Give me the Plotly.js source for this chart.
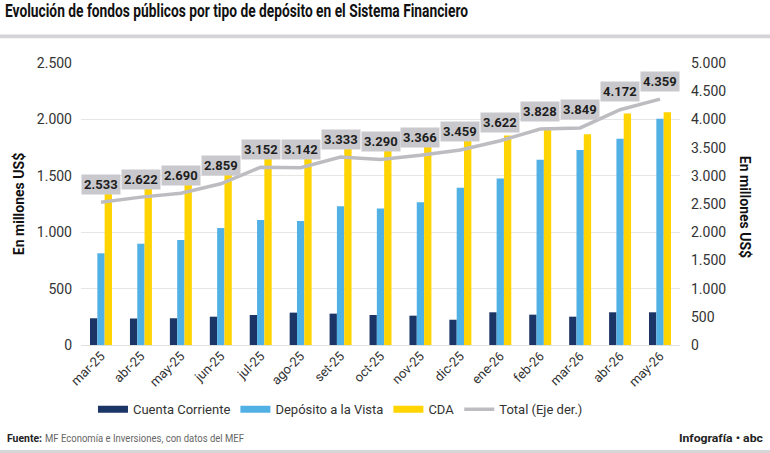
<!DOCTYPE html>
<html>
<head>
<meta charset="utf-8">
<script src="https://cdn.plot.ly/plotly-3.0.1.min.js"></script>
<style>
  html, body { margin: 0; padding: 0; background: #ffffff; }
  #chart { width: 770px; height: 453px; }
</style>
</head>
<body>
<div id="chart"></div>
<script>
// Monthly public deposits by type (millions of US$)
const months = ["mar-25","abr-25","may-25","jun-25","jul-25","ago-25","set-25","oct-25",
                "nov-25","dic-25","ene-26","feb-26","mar-26","abr-26","may-26"];
const cuentaCorriente = [237, 235, 237, 251, 266, 287, 278, 266, 260, 224, 290, 269, 251, 290, 290];
const depositoVista   = [813, 898, 931, 1037, 1108, 1099, 1229, 1209, 1265, 1395, 1475, 1643, 1729, 1829, 2006];
const cda             = [1483, 1489, 1522, 1571, 1778, 1756, 1826, 1815, 1841, 1840, 1857, 1916, 1869, 2053, 2063];
const total           = [2533, 2622, 2690, 2859, 3152, 3142, 3333, 3290, 3366, 3459, 3622, 3828, 3849, 4172, 4359];

const seriesNames  = ["Cuenta Corriente", "Depósito a la Vista", "CDA"];
const seriesValues = [cuentaCorriente, depositoVista, cda];
const seriesColors = ["#1b3566", "#52b1e4", "#ffd400"];
const totalName  = "Total (Eje der.)";
const totalColor = "#bdbdc1";

const titleText  = "Evolución de fondos públicos por tipo de depósito en el Sistema Financiero";
const axisTitle  = "En millones US$";
const sourceHead = "Fuente:";
const sourceBody = "MF Economía e Inversiones, con datos del MEF";
const creditText = "Infografía • abc";

const fmt = v => v.toLocaleString("de-DE");

const traces = [];
seriesNames.forEach((name, i) => {
  traces.push({
    type: "bar", name: name, x: months, y: seriesValues[i],
    marker: { color: seriesColors[i] }, showlegend: false, hoverinfo: "skip"
  });
});
// legend swatches drawn as wide flat strokes
seriesNames.forEach((name, i) => {
  traces.push({
    type: "scatter", mode: "lines", name: name, x: [null], y: [null],
    line: { color: seriesColors[i], width: 7 }, showlegend: true
  });
});
traces.push({
  type: "scatter", mode: "lines", name: totalName, x: months, y: total, yaxis: "y2",
  line: { color: totalColor, width: 3.5 }, showlegend: true
});

const annotations = total.map((v, i) => ({
  x: months[i], y: v, xref: "x", yref: "y2", text: fmt(v), showarrow: false,
  yshift: 18, bgcolor: "#c9c9cd", borderpad: 2,
  font: { family: "Roboto", size: 13, color: "#1e1e1e", weight: 700 }
}));

// right-hand axis title, read top to bottom
annotations.push({
  xref: "paper", yref: "paper", x: 1.1085, y: 0.49, xanchor: "center", yanchor: "middle",
  showarrow: false, textangle: 90, text: axisTitle,
  font: { family: "Roboto", size: 14, color: "#111", weight: 700 }
});

// footer: source and credit
annotations.push({
  xref: "paper", yref: "paper", x: -0.1269, y: -0.333, xanchor: "left", yanchor: "middle",
  showarrow: false, text: sourceHead,
  font: { family: "Roboto", size: 11, color: "#222", weight: 700 }
});
annotations.push({
  xref: "paper", yref: "paper", x: -0.0634, y: -0.333, xanchor: "left", yanchor: "middle",
  showarrow: false, text: sourceBody,
  font: { family: "Roboto", size: 11, color: "#666" }
});
annotations.push({
  xref: "paper", yref: "paper", x: 1.142, y: -0.333, xanchor: "right", yanchor: "middle",
  showarrow: false, text: creditText,
  font: { family: "Roboto", size: 11, color: "#222", weight: 700 }
});

const layout = {
  width: 770, height: 453,
  margin: { l: 81, r: 90, t: 63, b: 108 },
  paper_bgcolor: "#ffffff", plot_bgcolor: "#ffffff",
  separators: ",.",
  font: { family: "Roboto", size: 13, color: "#333" },
  title: {
    text: titleText,
    x: 0.0065, xanchor: "left", xref: "container", y: 0.976, yanchor: "middle", yref: "container",
    font: { family: "Roboto", size: 18, color: "#111", weight: 700 }
  },
  barmode: "group", bargap: 0.45, bargroupgap: 0,
  xaxis: {
    type: "category", tickangle: -45, showgrid: false, zeroline: false, showline: false,
    ticks: "", tickfont: { size: 13, color: "#333" }
  },
  yaxis: {
    range: [0, 2500], dtick: 500, tickformat: ",d", showgrid: true, gridcolor: "#e6e6e6",
    zeroline: true, zerolinecolor: "#e0e0e0", showline: false, ticks: "",
    ticklabelstandoff: 8, tickfont: { size: 14, color: "#333" },
    title: { text: axisTitle, standoff: 8, font: { size: 14, color: "#111", weight: 700 } }
  },
  yaxis2: {
    overlaying: "y", side: "right", range: [0, 5000], dtick: 500, tickformat: ",d",
    showgrid: false, zeroline: false, showline: false, ticks: "",
    ticklabelstandoff: 10, tickfont: { size: 14, color: "#333" }
  },
  legend: {
    orientation: "h", x: 0.02, xanchor: "left", y: -0.228, yanchor: "middle",
    font: { size: 13, color: "#333" }, itemwidth: 30, tracegroupgap: 0,
    bgcolor: "rgba(0,0,0,0)"
  },
  shapes: [
    { type: "rect", xref: "paper", yref: "paper", x0: -0.14, x1: 1.16, y0: 1.088, y1: 1.101,
      fillcolor: "#d3d3d8", line: { width: 0 }, layer: "below" },
    { type: "rect", xref: "paper", yref: "paper", x0: -0.14, x1: 1.16, y0: -0.385, y1: -0.372,
      fillcolor: "#d6d6d8", line: { width: 0 }, layer: "below" }
  ],
  annotations: annotations
};

// condensed-looking headline and footer: squeeze the rendered text to a set width,
// keeping its left (or right) edge where it was placed
function condense(el, width, edge) {
  if (!el) return;
  const bb = el.getBBox();
  el.setAttribute("textLength", width);
  el.setAttribute("lengthAdjust", "spacingAndGlyphs");
  if (edge === "left") {
    el.setAttribute("text-anchor", "start");
    el.setAttribute("x", bb.x);
  } else if (edge === "right") {
    el.setAttribute("text-anchor", "end");
    el.setAttribute("x", bb.x + bb.width);
  }
}

Plotly.newPlot("chart", traces, layout, { displayModeBar: false, responsive: false }).then(gd => {
  condense(gd.querySelector(".gtitle"), 463);
  gd.querySelectorAll(".annotation-text").forEach(t => {
    const s = t.textContent;
    if (s === sourceHead) condense(t, 35, "left");
    else if (s === sourceBody) condense(t, 199, "left");
    else if (s === creditText) condense(t, 84, "right");
  });
});
</script>
</body>
</html>
